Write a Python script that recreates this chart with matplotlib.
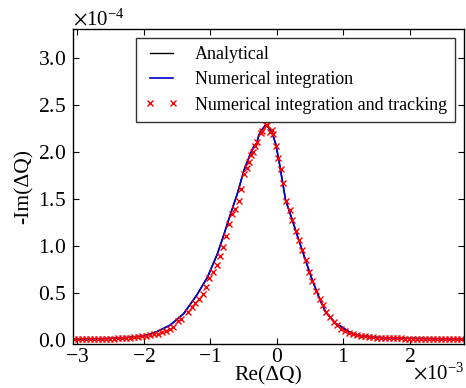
import matplotlib
matplotlib.use("Agg")
import matplotlib.pyplot as plt

# Data (x in units of 1e-3, y in units of 1e-4)
X_SCALE = 1e-3
Y_SCALE = 1e-4

re_line = [-3.06, -2.8, -2.5, -2.2, -2.0, -1.8, -1.6, -1.4, -1.2, -1.04, -0.89,
           -0.79, -0.69, -0.59, -0.49, -0.39, -0.34, -0.30, -0.27, -0.22, -0.165,
           -0.12, -0.065, -0.015, 0.035, 0.085, 0.135, 0.235, 0.335, 0.435,
           0.535, 0.635, 0.735, 0.885, 1.0, 1.11, 1.25, 1.5, 1.8, 2.2, 2.5, 2.82]
im_analytical = [0.01, 0.012, 0.018, 0.03, 0.045, 0.09, 0.16, 0.28, 0.48, 0.67,
                 0.92, 1.13, 1.35, 1.56, 1.81, 1.99, 2.06, 2.10, 2.17, 2.24, 2.29,
                 2.26, 2.20, 2.09, 1.91, 1.70, 1.49, 1.28, 1.06, 0.85, 0.64, 0.46,
                 0.30, 0.18, 0.13, 0.08, 0.05, 0.03, 0.02, 0.017, 0.015, 0.015]
im_numerical = [0.01, 0.012, 0.018, 0.03, 0.045, 0.09, 0.16, 0.28, 0.48, 0.67,
                0.92, 1.13, 1.35, 1.56, 1.81, 1.99, 2.07, 2.09, 2.18, 2.24, 2.29,
                2.27, 2.20, 2.09, 1.91, 1.70, 1.49, 1.28, 1.06, 0.85, 0.64, 0.46,
                0.30, 0.18, 0.13, 0.08, 0.05, 0.03, 0.02, 0.017, 0.015, 0.015]

re_track = [-3.05, -2.99, -2.93, -2.87, -2.81, -2.75, -2.69, -2.63, -2.57, -2.51,
            -2.45, -2.39, -2.33, -2.27, -2.21, -2.15, -2.09, -2.03, -1.97, -1.91,
            -1.85, -1.79, -1.73, -1.67, -1.61, -1.56, -1.49, -1.44, -1.34, -1.28,
            -1.23, -1.16, -1.11, -1.06, -1.01, -0.96, -0.90, -0.85, -0.81, -0.76,
            -0.71, -0.67, -0.63, -0.57, -0.54, -0.49, -0.45, -0.42, -0.38, -0.355,
            -0.325, -0.29, -0.24, -0.215, -0.165, -0.14, -0.105, -0.075, -0.055,
            -0.015, 0.025, 0.06, 0.095, 0.145, 0.195, 0.235, 0.285, 0.335, 0.385,
            0.435, 0.485, 0.535, 0.595, 0.645, 0.695, 0.75, 0.80, 0.86, 0.91,
            0.975, 1.035, 1.095, 1.15, 1.21, 1.27, 1.33, 1.39, 1.45, 1.51, 1.57,
            1.63, 1.69, 1.75, 1.81, 1.87, 1.93, 1.99, 2.05, 2.11, 2.17, 2.23, 2.29,
            2.35, 2.41, 2.47, 2.53, 2.59, 2.65, 2.71, 2.77]
im_track = [0.01, 0.01, 0.01, 0.01, 0.01, 0.012, 0.012, 0.013, 0.014, 0.015,
            0.017, 0.018, 0.02, 0.023, 0.026, 0.03, 0.035, 0.04, 0.045, 0.052,
            0.06, 0.07, 0.085, 0.10, 0.12, 0.14, 0.20, 0.22, 0.30, 0.35,
            0.40, 0.44, 0.49, 0.57, 0.66, 0.72, 0.80, 0.90, 0.99, 1.11,
            1.24, 1.34, 1.40, 1.48, 1.61, 1.77, 1.83, 1.90, 1.97, 2.00,
            2.07, 2.11, 2.20, 2.23, 2.29, 2.29, 2.22, 2.24, 2.19,
            2.07, 1.94, 1.82, 1.67, 1.48, 1.38, 1.28, 1.16, 1.07, 0.96,
            0.85, 0.73, 0.63, 0.52, 0.44, 0.37, 0.30, 0.25, 0.195, 0.16,
            0.12, 0.10, 0.08, 0.065, 0.055, 0.045, 0.04, 0.035, 0.03, 0.027, 0.025,
            0.022, 0.02, 0.02, 0.018, 0.018, 0.017, 0.016, 0.016, 0.015, 0.015, 0.015, 0.015,
            0.015, 0.015, 0.015, 0.015, 0.015, 0.015, 0.015, 0.015]

labels = ["Analytical", "Numerical integration", "Numerical integration and tracking"]

plt.rcParams['font.family'] = ['Liberation Serif', 'DejaVu Serif']
plt.rcParams['mathtext.fontset'] = 'stix'
plt.rcParams['font.size'] = 15

fig = plt.figure(figsize=(4.66, 3.88), dpi=100)
ax = fig.add_axes([0.157, 0.113, 0.839, 0.812])

ax.plot([v * X_SCALE for v in re_line], [v * Y_SCALE for v in im_analytical],
        color='black', lw=1.0, label=labels[0])
ax.plot([v * X_SCALE for v in re_line], [v * Y_SCALE for v in im_numerical],
        color='#0000cc', lw=1.2, label=labels[1])
ax.plot([v * X_SCALE for v in re_track], [v * Y_SCALE for v in im_track],
        'x', color='red', ms=4, mew=1.0, label=labels[2])

ax.set_xlim(-3.06e-3, 2.82e-3)
ax.set_ylim(-0.043e-4, 3.31e-4)
ax.set_xticks([v * X_SCALE for v in [-3, -2, -1, 0, 1, 2]])
ax.set_yticks([v * Y_SCALE for v in [0.0, 0.5, 1.0, 1.5, 2.0, 2.5, 3.0]])
ax.ticklabel_format(style='sci', scilimits=(0, 0), useMathText=True)
ax.tick_params(direction='in', top=True, right=True, length=4, width=0.8,
               labelsize=15.5)
ax.tick_params(axis='x', pad=3)
ax.tick_params(axis='y', pad=5)
for s in ax.spines.values():
    s.set_linewidth(1.0)

ax.set_xlabel('Re(ΔQ)', fontsize=15.5, labelpad=-1)
ax.set_ylabel('-Im(ΔQ)', fontsize=15.5, labelpad=3)
ax.xaxis.get_offset_text().set_fontsize(15)
ax.yaxis.get_offset_text().set_fontsize(15)
ax.xaxis.OFFSETTEXTPAD = -3

leg = ax.legend(loc='upper right', numpoints=2, fontsize=13, fancybox=False,
                framealpha=1, edgecolor='#333333', borderaxespad=0.5,
                handlelength=1.9, handletextpad=0.9, labelspacing=0.45,
                borderpad=0.45)
leg.get_frame().set_linewidth(1.0)

fig.savefig('out.png', dpi=100, facecolor='white')
